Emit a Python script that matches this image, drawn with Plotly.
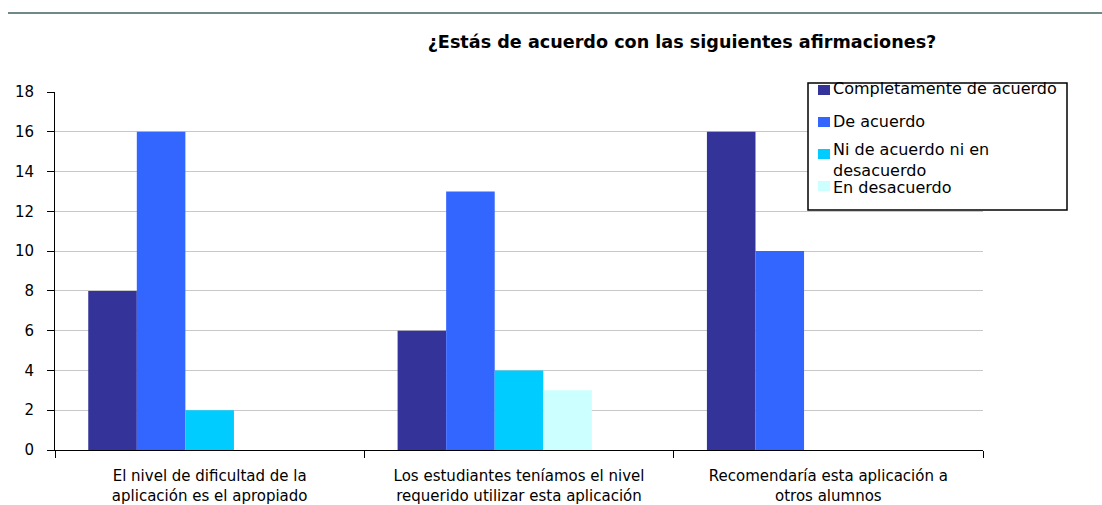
import plotly.graph_objects as go

categories = [
    "El nivel de dificultad de la<br>aplicación es el apropiado",
    "Los estudiantes teníamos el nivel<br>requerido utilizar esta aplicación",
    "Recomendaría esta aplicación a<br>otros alumnos",
]
series_names = [
    "Completamente de acuerdo",
    "De acuerdo",
    "Ni de acuerdo ni en<br>desacuerdo",
    "En desacuerdo",
    "Completamente en desacuerdo",
]
completamente_de_acuerdo = [8, 6, 16]
de_acuerdo = [16, 13, 10]
ni_de_acuerdo = [2, 4, 0]
en_desacuerdo = [0, 3, 0]
completamente_en_desacuerdo = [0, 0, 0]
series_values = [completamente_de_acuerdo, de_acuerdo, ni_de_acuerdo,
                 en_desacuerdo, completamente_en_desacuerdo]
colors = ["#333399", "#3366FF", "#00CCFF", "#CCFFFF", "#993366"]
show_in_legend = [True, True, True, True, False]
y_ticks = [0, 2, 4, 6, 8, 10, 12, 14, 16, 18]
title_text = "¿Estás de acuerdo con las siguientes afirmaciones?"

FONT = "DejaVu Sans"
W, H = 1102, 505
PL, PR, PT, PB = 55, 983, 92, 450  # plot area in pixels


def px_x(p):
    return (p - PL) / (PR - PL)


def px_y(p):
    return (PB - p) / (PB - PT)


fig = go.Figure()
for name, vals, col in zip(series_names, series_values, colors):
    fig.add_trace(go.Bar(
        x=categories, y=vals, name=name,
        marker=dict(color=col, line=dict(width=0)),
        showlegend=False,
    ))

# custom legend (box, swatches, labels)
shapes = [
    dict(type="line", xref="paper", yref="paper",
         x0=px_x(8), x1=px_x(1102), y0=px_y(13), y1=px_y(13),
         line=dict(color="#708888", width=2)),
    dict(type="rect", xref="paper", yref="paper",
         x0=px_x(808), x1=px_x(1067), y0=px_y(83), y1=px_y(210),
         line=dict(color="black", width=1.5), fillcolor="white", layer="above"),
]
annotations = []
swatch_y = [90, 122, 154, 186]
text_y = [89, 121, 160, 187]
k = 0
for name, col, sl in zip(series_names, colors, show_in_legend):
    if not sl:
        continue
    shapes.append(dict(type="rect", xref="paper", yref="paper",
                       x0=px_x(818), x1=px_x(830),
                       y0=px_y(swatch_y[k] - 5), y1=px_y(swatch_y[k] + 5),
                       line=dict(width=0), fillcolor=col, layer="above"))
    annotations.append(dict(text=name, xref="paper", yref="paper",
                            x=px_x(832), y=px_y(text_y[k]),
                            xanchor="left", yanchor="middle", showarrow=False,
                            align="left", borderpad=0,
                            font=dict(family=FONT, size=16, color="black")))
    k += 1

fig.update_layout(
    width=W, height=H,
    margin=dict(l=PL, r=W - PR, t=PT, b=H - PB, autoexpand=False),
    paper_bgcolor="white", plot_bgcolor="white",
    barmode="group", bargap=0.215, bargroupgap=0,
    font=dict(family=FONT, size=15, color="black"),
    title=dict(text="<b>" + title_text + "</b>", x=682 / W, xanchor="center",
               y=1 - 42 / H, yanchor="middle",
               font=dict(family=FONT, size=17.6, color="black")),
    showlegend=False,
    xaxis=dict(
        showline=True, linecolor="black", linewidth=1,
        ticks="outside", tickson="boundaries", ticklen=7, tickcolor="black",
        showgrid=False, ticklabelstandoff=12,
        tickfont=dict(family=FONT, size=15, color="black"),
    ),
    yaxis=dict(
        range=[0, 18], tickvals=y_ticks, ticks="outside", ticklen=7,
        tickcolor="black", showline=True, linecolor="black", linewidth=1,
        showgrid=True, gridcolor="#C8C8C8", gridwidth=1,
        zeroline=False, ticklabelstandoff=10,
        tickfont=dict(family=FONT, size=15, color="black"),
    ),
    shapes=shapes,
    annotations=annotations,
)

fig.write_html("out.html", config={"displayModeBar": False},
               post_script="document.body.style.margin='0px';")
